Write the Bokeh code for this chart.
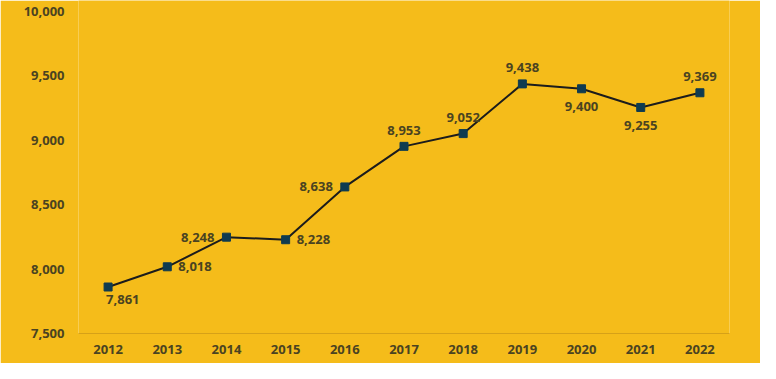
from bokeh.plotting import figure
from bokeh.models import ColumnDataSource, FixedTicker, Range1d
from bokeh.embed import file_html
from bokeh.resources import INLINE
from bokeh.core.properties import value

# ---- data ----
years = [2012, 2013, 2014, 2015, 2016, 2017, 2018, 2019, 2020, 2021, 2022]
counts = [7861, 8018, 8248, 8228, 8638, 8953, 9052, 9438, 9400, 9255, 9369]
label_place = ["below_right", "right", "left", "right", "left", "above",
               "above", "above", "below", "below", "above"]
y_ticks = [7500, 8000, 8500, 9000, 9500, 10000]
y_tick_labels = ["7,500", "8,000", "8,500", "9,000", "9,500", "10,000"]
x_tick_labels = [str(y) for y in years]

BG = "#F5BC1A"
TXT = "#4a4321"
LINE = "#1c1c1c"
MARK = "#0f3b50"
FONT = "Open Sans"

W, H = 760, 363
frame_left, frame_right = 78, 729
frame_top, frame_bottom = 0, 333
top_label_px = 11  # position of 10,000 below frame top
px_per_unit = (frame_bottom - frame_top - top_label_px) / (10000 - 7500)
y_end = 10000 + top_label_px / px_per_unit

p = figure(width=W, height=H, output_backend="svg", toolbar_location=None,
           x_range=Range1d(2011.5, 2022.5), y_range=Range1d(7500, y_end),
           min_border_left=frame_left, min_border_right=W - frame_right,
           min_border_top=frame_top, min_border_bottom=H - frame_bottom)
p.background_fill_color = BG
p.border_fill_color = BG
p.outline_line_color = None
p.xgrid.grid_line_color = None
p.ygrid.grid_line_color = None

# axes
p.yaxis.ticker = FixedTicker(ticks=y_ticks)
p.yaxis.major_label_overrides = {t: l for t, l in zip(y_ticks, y_tick_labels)}
p.yaxis.axis_line_color = None
p.yaxis.major_tick_line_color = None
p.yaxis.minor_tick_line_color = None
p.yaxis.major_tick_out = 0
p.yaxis.major_label_standoff = 14

p.xaxis.ticker = FixedTicker(ticks=years)
p.xaxis.major_label_overrides = {y: l for y, l in zip(years, x_tick_labels)}
p.xaxis.axis_line_color = "#d6a118"
p.xaxis.axis_line_width = 1
p.xaxis.major_tick_line_color = None
p.xaxis.minor_tick_line_color = None
p.xaxis.major_tick_out = 0
p.xaxis.major_label_standoff = 11

for ax in (p.xaxis, p.yaxis):
    ax.major_label_text_font = FONT
    ax.major_label_text_font_size = "13px"
    ax.major_label_text_font_style = "bold"
    ax.major_label_text_color = TXT

# line + markers
src = ColumnDataSource(dict(x=years, y=counts))
p.line("x", "y", source=src, line_color=LINE, line_width=2)
p.scatter("x", "y", source=src, marker="square", size=8,
          fill_color=MARK, line_color=MARK)

# labels
place_map = {
    "above": (0, -16, "center"),
    "below": (0, 18, "center"),
    "below_right": (-2, 12, "left"),
    "right": (11, 0, "left"),
    "left": (-12, 0, "right"),
}
for align in ("left", "center", "right"):
    xs, ys, txt, dx, dy = [], [], [], [], []
    for yr, c, pl in zip(years, counts, label_place):
        ox, oy, a = place_map[pl]
        if a != align:
            continue
        xs.append(yr); ys.append(c); txt.append(f"{c:,}")
        dx.append(ox); dy.append(oy)
    if not xs:
        continue
    lsrc = ColumnDataSource(dict(x=xs, y=ys, t=txt, dx=dx, dy=dy))
    p.text("x", "y", text="t", source=lsrc, x_offset="dx", y_offset="dy",
           text_align=align, text_baseline="middle",
           text_font=value(FONT), text_font_size="13px",
           text_font_style="bold", text_color=TXT)

open("out.html", "w").write(file_html(p, INLINE))
